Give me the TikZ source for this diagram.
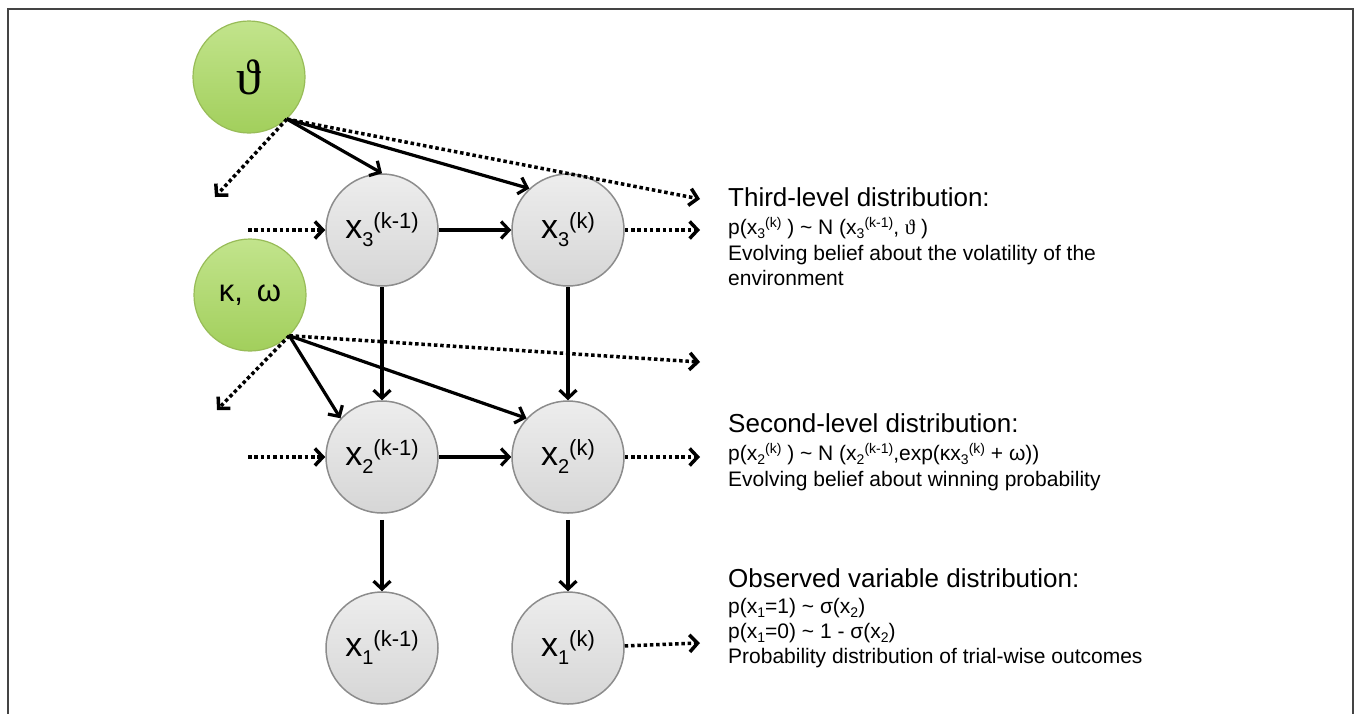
\documentclass[tikz,border=0pt]{standalone}
\usepackage{fontspec}
\setmainfont{Liberation Sans}
\newfontfamily\serifgr{Liberation Serif}
\usetikzlibrary{arrows.meta}
\newcommand\nsub[1]{\raisebox{-8pt}{\fontsize{20}{20}\selectfont #1}}
\newcommand\nsup[1]{\raisebox{10pt}{\fontsize{22}{22}\selectfont #1}}
\newcommand\tsub[1]{\raisebox{-4pt}{\fontsize{14}{14}\selectfont #1}}
\newcommand\tsup[1]{\raisebox{6.5pt}{\fontsize{14}{14}\selectfont #1}}
\definecolor{gtop}{HTML}{C2E48C}
\definecolor{gbot}{HTML}{A2CF5C}
\definecolor{gline}{HTML}{98BC58}
\definecolor{ktop}{HTML}{EDEDED}
\definecolor{kbot}{HTML}{D6D6D6}
\definecolor{kline}{HTML}{8C8C8C}
\definecolor{framec}{HTML}{444444}
\tikzset{
  gnode/.style={circle, minimum size=112pt, inner sep=0pt, draw=gline, line width=1.2pt, top color=gtop, bottom color=gbot},
  xnode/.style={circle, minimum size=112pt, inner sep=0pt, draw=kline, line width=1.5pt, top color=ktop, bottom color=kbot, font=\fontsize{34}{34}\selectfont},
  arr/.style={line width=3.2pt, -{Straight Barb[length=8pt,width=17pt]}},
  dotarr/.style={arr, line width=3.5pt, dash pattern=on 3.5pt off 2.8pt},
  hd/.style={anchor=base west, inner sep=0pt, font=\fontsize{26}{30}\selectfont},
  tx/.style={anchor=base west, inner sep=0pt, font=\fontsize{21}{25}\selectfont},
  frm/.style={draw=framec, line width=2pt}
}
\begin{document}
\begin{tikzpicture}[x=1pt,y=-1pt]
\useasboundingbox (0,0) rectangle (1356,713);
\draw[frm] (7.5,9) rectangle (1353,740);
% nodes
\node[gnode] (theta) at (249,77) {\fontsize{50}{50}\selectfont\serifgr ϑ};
\node[gnode] (kw) at (250,295) {\fontsize{31}{31}\selectfont κ,\hspace{0.45em}ω};
\node[xnode] (x3a) at (382,230) {x\nsub{3}\nsup{(k-1)}};
\node[xnode] (x3b) at (568,230) {x\nsub{3}\nsup{(k)}};
\node[xnode] (x2a) at (382,457) {x\nsub{2}\nsup{(k-1)}};
\node[xnode] (x2b) at (568,457) {x\nsub{2}\nsup{(k)}};
\node[xnode] (x1a) at (382,648) {x\nsub{1}\nsup{(k-1)}};
\node[xnode] (x1b) at (568,648) {x\nsub{1}\nsup{(k)}};
% free ends
\coordinate (thR) at (700,199);
\coordinate (thL) at (215,197);
\coordinate (kwR) at (700,362);
\coordinate (kwL) at (217,410);
\coordinate (l3) at (248,230);
\coordinate (r3) at (700,230);
\coordinate (l2) at (248,457);
\coordinate (r2) at (700,457);
\coordinate (r1) at (700,643);
% theta connectors
\draw[arr] (theta.-48) -- (x3a.north);
\draw[arr] (theta.-48) -- (x3b.133);
\draw[dotarr] (theta.-48) -- (thR);
\draw[dotarr] (theta.-48) -- (thL);
% row 3
\draw[dotarr] (l3) -- (x3a);
\draw[arr] (x3a) -- (x3b);
\draw[dotarr] (x3b) -- (r3);
% vertical 3->2
\draw[arr] (x3a.south) -- (x2a.north);
\draw[arr] (x3b.south) -- (x2b.north);
% kappa omega connectors
\draw[arr] (kw.-46) -- (x2a.137);
\draw[arr] (kw.-46) -- (x2b.137);
\draw[dotarr] (kw.-46) -- (kwR);
\draw[dotarr] (kw.-46) -- (kwL);
% row 2
\draw[dotarr] (l2) -- (x2a);
\draw[arr] (x2a) -- (x2b);
\draw[dotarr] (x2b) -- (r2);
% vertical 2->1
\draw[arr, shorten <=6pt] (x2a.south) -- (x1a.north);
\draw[arr, shorten <=6pt] (x2b.south) -- (x1b.north);
\draw[dotarr] (x1b) -- (r1);
% text
\node[hd] (t3h) at (728,206) {Third-level distribution:};
\node[tx] (t3f) at (728,234) {p(x\tsub{3}\tsup{(k)} ) \textasciitilde{} N (x\tsub{3}\tsup{(k-1)}, {\serifgr ϑ} )};
\node[tx] (t3a) at (728,260) {Evolving belief about the volatility of the};
\node[tx] (t3b) at (728,285) {environment};
\node[hd] (t2h) at (728,432) {Second-level distribution:};
\node[tx] (t2f) at (728,460) {p(x\tsub{2}\tsup{(k)} ) \textasciitilde{} N (x\tsub{2}\tsup{(k-1)},exp(κx\tsub{3}\tsup{(k)} + ω))};
\node[tx] (t2a) at (728,486) {Evolving belief about winning probability};
\node[hd] (t1h) at (728,587) {Observed variable distribution:};
\node[tx] (t1f) at (728,613) {p(x\tsub{1}=1) \textasciitilde{} σ(x\tsub{2})};
\node[tx] (t1g) at (728,638) {p(x\tsub{1}=0) \textasciitilde{} 1 - σ(x\tsub{2})};
\node[tx] (t1a) at (728,663) {Probability distribution of trial-wise outcomes};
\end{tikzpicture}
\end{document}
